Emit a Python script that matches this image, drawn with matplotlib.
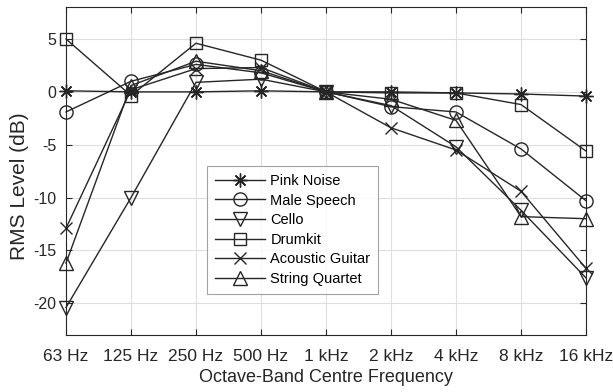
import matplotlib
matplotlib.use("Agg")
import matplotlib.pyplot as plt

plt.rcParams['font.family'] = ['Liberation Sans', 'DejaVu Sans']
plt.rcParams['axes.unicode_minus'] = False

freq_labels = ['63 Hz', '125 Hz', '250 Hz', '500 Hz', '1 kHz', '2 kHz', '4 kHz', '8 kHz', '16 kHz']

pink_noise = [0.1, 0.0, 0.0, 0.1, 0.0, 0.0, -0.1, -0.2, -0.4]
male_speech = [-1.9, 1.0, 2.6, 1.8, 0.0, -1.4, -1.9, -5.4, -10.3]
cello = [-20.4, -10.0, 0.9, 1.2, 0.0, -1.3, -5.2, -11.2, -17.6]
drumkit = [5.0, -0.35, 4.6, 3.0, 0.0, -0.1, -0.1, -1.2, -5.6]
acoustic_guitar = [-12.9, 0.2, 2.2, 2.3, 0.0, -3.4, -5.5, -9.4, -16.7]
string_quartet = [-16.2, 0.6, 2.9, 2.0, 0.0, -0.7, -2.7, -11.8, -12.0]

series = [
    ('Pink Noise', pink_noise, (8, 2, 0), 10),
    ('Male Speech', male_speech, 'o', 9.5),
    ('Cello', cello, 'v', 10.5),
    ('Drumkit', drumkit, 's', 8),
    ('Acoustic Guitar', acoustic_guitar, 'x', 8),
    ('String Quartet', string_quartet, '^', 10.5),
]

fig = plt.figure(figsize=(6.13, 3.92), dpi=100)
ax = fig.add_axes([66/613, 1-335/392, 520/613, (335-7.3)/392])

x = list(range(len(freq_labels)))
lc = '#262626'
for name, vals, m, ms in series:
    ax.plot(x, vals, color=lc, linewidth=1.0, marker=m, markersize=ms,
            markerfacecolor='none', markeredgecolor=lc, markeredgewidth=1.0,
            label=name, clip_on=False)

ax.set_xlim(0, len(freq_labels)-1)
ax.set_ylim(-23, 8)
ax.set_xticks(x)
ax.set_xticklabels(freq_labels)
ax.set_yticks([-20, -15, -10, -5, 0, 5])
ax.grid(True, color='#dedede', linewidth=0.8)
ax.set_axisbelow(True)
ax.tick_params(direction='in', top=True, right=True, colors='#262626', length=4)
ax.tick_params(axis='x', labelsize=12.5, pad=10)
ax.tick_params(axis='y', labelsize=11.5, pad=7)
for s in ax.spines.values():
    s.set_color('#262626')
    s.set_linewidth(0.8)
ax.set_xlabel('Octave-Band Centre Frequency', fontsize=13, color='#262626')
ax.xaxis.set_label_coords(0.5, -(377-335)/327.7)
ax.xaxis.label.set_va('center')
ax.set_ylabel('RMS Level (dB)', fontsize=15, color='#262626')
ax.yaxis.set_label_coords(-(66-20)/520, (335-186)/327.7)
ax.yaxis.label.set_va('center')

leg = ax.legend(loc='upper left', bbox_to_anchor=((207-66)/520, (335-166)/327.7),
                frameon=True, fancybox=False, edgecolor='#8c8c8c', fontsize=10.5,
                handlelength=3.4, labelspacing=0.38, borderpad=0.55,
                handletextpad=0.4, borderaxespad=0)
leg.get_frame().set_linewidth(0.8)

fig.savefig('out.png', dpi=100)
